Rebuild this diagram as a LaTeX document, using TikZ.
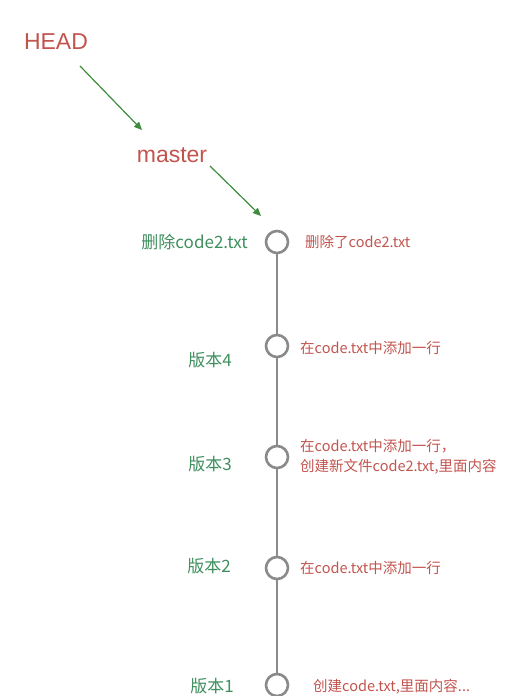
\documentclass[tikz,border=0pt]{standalone}
\usepackage{fontspec}
\setmainfont{Liberation Sans}
\newfontfamily\cjk{Noto Sans CJK SC}
\usetikzlibrary{positioning,arrows.meta}
\definecolor{rail}{HTML}{8A8A8A}
\definecolor{leaf}{HTML}{3F8F5E}
\definecolor{brick}{HTML}{C2544E}
\definecolor{arrowgreen}{HTML}{3C8C3C}

\begin{document}
\begin{tikzpicture}[x=1pt, y=-1pt,
    commit/.style={circle, draw=rail, line width=2.6pt, fill=white, minimum size=22pt, inner sep=0pt},
    vlabel/.style={text=leaf, font=\cjk\fontsize{17}{20}\selectfont, anchor=east, inner sep=1pt},
    msg/.style={text=brick, font=\cjk\fontsize{14.5}{20}\selectfont, anchor=west, align=left, inner sep=1pt},
    ref/.style={text=brick, font=\fontsize{23}{26}\selectfont, inner sep=1pt},
    ptr/.style={-{Triangle[length=8pt, width=7pt]}, arrowgreen, line width=1.2pt}]
  \useasboundingbox (0,0) rectangle (529,696);
  % commits, newest on top
  \node[commit] (c5) at (277,242) {};
  \node[commit] (c4) at (277,346) {};
  \node[commit] (c3) at (277,457) {};
  \node[commit] (c2) at (277,568) {};
  \node[commit] (c1) at (277,685) {};
  \foreach \a/\b in {c5/c4,c4/c3,c3/c2,c2/c1}
    \draw[rail, line width=2.6pt] (\a) -- (\b);
  % version names
  \node[vlabel] (v5) at (249,242) {删除code2.txt};
  \node[vlabel] (v4) at (233,360) {版本4};
  \node[vlabel] (v3) at (233,464) {版本3};
  \node[vlabel] (v2) at (232,566) {版本2};
  \node[vlabel] (v1) at (235,686) {版本1};
  % what changed
  \node[msg] (m5) at (304,242) {删除了code2.txt};
  \node[msg] (m4) at (299,348) {在code.txt中添加一行};
  \node[msg] (m3) at (299,457) {在code.txt中添加一行，\\创建新文件code2.txt,里面内容};
  \node[msg] (m2) at (299,568) {在code.txt中添加一行};
  \node[msg] (m1) at (312,687) {创建code.txt,里面内容...};
  % pointers
  \node[ref] (head) at (56,42) {HEAD};
  \node[ref] (master) at (172,155) {master};
  \coordinate (h0) at (80,66);
  \coordinate (h1) at (142,130);
  \coordinate (m0) at (210,166);
  \coordinate (m1) at (261,216);
  \draw[ptr] (h0) -- (h1);
  \draw[ptr] (m0) -- (m1);
\end{tikzpicture}
\end{document}
